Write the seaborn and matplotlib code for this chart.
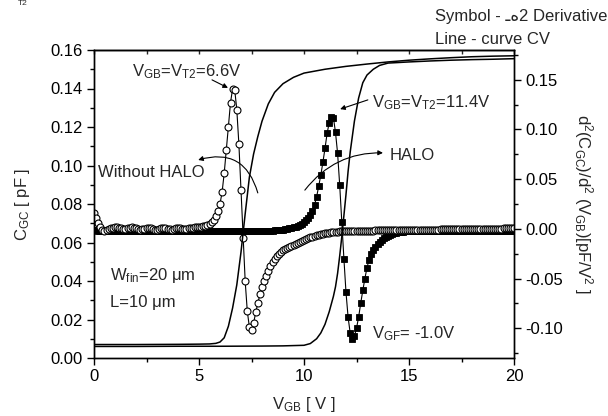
import numpy as np
import matplotlib
matplotlib.use("Agg")
import matplotlib.pyplot as plt
import seaborn as sns
from matplotlib.ticker import MultipleLocator, FormatStrFormatter

# Back-gate sweep of the second-derivative data (0.1 V step)
vgb_sweep = np.round(np.arange(201) * 0.1, 1)

# d2(C_GC)/d2(V_GB) without HALO implant [pF/V^2]
d2_no_halo = [
    0.016, 0.011, 0.006, 0.002, -0.001, -0.002, -0.001, 0.000, 0.001, 0.001,
    0.002, 0.002, 0.001, 0.001, 0.000, 0.000, 0.001, 0.001, 0.002, 0.001,
    0.001, 0.000, -0.001, 0.000, 0.000, 0.001, 0.001, 0.001, 0.000, -0.001,
    -0.001, 0.000, 0.001, 0.001, 0.001, 0.000, 0.000, -0.001, 0.000, 0.001,
    0.001, 0.001, 0.000, 0.000, 0.000, 0.001, 0.001, 0.001, 0.002, 0.002,
    0.002, 0.002, 0.003, 0.003, 0.004, 0.005, 0.007, 0.009, 0.013, 0.018,
    0.025, 0.037, 0.056, 0.079, 0.103, 0.127, 0.141, 0.140, 0.120, 0.085,
    0.039, -0.009, -0.053, -0.083, -0.099, -0.102, -0.095, -0.084, -0.075, -0.066,
    -0.059, -0.053, -0.047, -0.042, -0.037, -0.033, -0.030, -0.027, -0.025, -0.023,
    -0.021, -0.020, -0.019, -0.018, -0.017, -0.016, -0.015, -0.014, -0.013, -0.012,
    -0.011, -0.010, -0.009, -0.008, -0.008, -0.007, -0.006, -0.006, -0.005, -0.005,
    -0.004, -0.004, -0.004, -0.003, -0.003, -0.003, -0.003, -0.002, -0.002, -0.002,
    -0.002, -0.002, -0.002, -0.002, -0.002, -0.002, -0.002, -0.002, -0.002, -0.002,
    -0.002, -0.002, -0.002, -0.002, -0.001, -0.001, -0.001, -0.001, -0.001, -0.001,
    -0.001, -0.001, -0.001, -0.001, -0.001, -0.001, -0.001, -0.001, -0.001, -0.001,
    -0.001, -0.001, -0.001, -0.001, -0.001, -0.001, -0.001, -0.001, -0.001, -0.001,
    -0.001, -0.001, -0.001, -0.001, -0.001, 0.000, 0.000, 0.000, 0.000, 0.000,
    0.000, 0.000, 0.000, 0.000, 0.000, 0.000, 0.000, 0.000, 0.000, 0.000,
    0.000, 0.000, 0.000, 0.000, 0.000, 0.000, 0.000, 0.000, 0.000, 0.000,
    0.000, 0.000, 0.000, 0.000, 0.000, 0.001, 0.001, 0.001, 0.001, 0.001,
    0.001,
]

# d2(C_GC)/d2(V_GB) with HALO implant [pF/V^2]
d2_halo = [
    -0.001, -0.001, -0.002, -0.002, -0.002, -0.002, -0.002, -0.002, -0.002, -0.002,
    -0.002, -0.002, -0.002, -0.002, -0.002, -0.002, -0.002, -0.002, -0.002, -0.002,
    -0.002, -0.002, -0.002, -0.002, -0.002, -0.002, -0.002, -0.002, -0.002, -0.002,
    -0.002, -0.002, -0.002, -0.002, -0.002, -0.002, -0.002, -0.002, -0.002, -0.002,
    -0.002, -0.002, -0.002, -0.002, -0.002, -0.002, -0.002, -0.002, -0.002, -0.002,
    -0.002, -0.002, -0.002, -0.002, -0.002, -0.002, -0.002, -0.002, -0.002, -0.002,
    -0.002, -0.002, -0.002, -0.002, -0.002, -0.002, -0.002, -0.002, -0.002, -0.002,
    -0.002, -0.002, -0.002, -0.002, -0.002, -0.002, -0.002, -0.002, -0.002, -0.002,
    -0.002, -0.002, -0.002, -0.002, -0.002, -0.002, -0.001, -0.001, -0.001, -0.001,
    -0.001, 0.000, 0.000, 0.001, 0.001, 0.002, 0.002, 0.003, 0.004, 0.005,
    0.007, 0.009, 0.011, 0.014, 0.018, 0.024, 0.032, 0.043, 0.054, 0.067,
    0.081, 0.096, 0.107, 0.113, 0.112, 0.097, 0.076, 0.044, 0.007, -0.030,
    -0.064, -0.089, -0.105, -0.111, -0.108, -0.100, -0.089, -0.075, -0.062, -0.050,
    -0.039, -0.031, -0.025, -0.021, -0.018, -0.015, -0.013, -0.011, -0.009, -0.008,
    -0.007, -0.006, -0.005, -0.004, -0.004, -0.003, -0.003, -0.003, -0.002, -0.002,
    -0.002, -0.002, -0.002, -0.002, -0.002, -0.002, -0.002, -0.002, -0.002, -0.002,
    -0.002, -0.002, -0.002, -0.002, -0.002, -0.002, -0.002, -0.002, -0.002, -0.002,
    -0.002, -0.002, -0.002, -0.002, -0.002, -0.002, -0.002, -0.002, -0.002, -0.002,
    -0.002, -0.002, -0.002, -0.002, -0.002, -0.002, -0.002, -0.002, -0.002, -0.002,
    -0.002, -0.002, -0.002, -0.002, -0.002, -0.002, -0.002, -0.002, -0.002, -0.002,
    -0.002,
]

# C_GC-V_GB curves [pF]
cv_no_halo_v = [0, 2, 4, 5, 5.5, 5.8, 6.0, 6.2, 6.4, 6.6, 6.8, 7.0, 7.2, 7.4,
                7.6, 7.8, 8.0, 8.3, 8.6, 9.0, 9.5, 10, 11, 12, 13, 14, 15, 16,
                17, 18, 19, 20]
cv_no_halo_c = [0.0070, 0.0070, 0.0071, 0.0072, 0.0073, 0.0076, 0.0083, 0.0105,
                0.0165, 0.026, 0.038, 0.055, 0.075, 0.094, 0.106, 0.115, 0.123,
                0.132, 0.138, 0.1425, 0.1458, 0.148, 0.150, 0.1515, 0.1527,
                0.1538, 0.1547, 0.1554, 0.156, 0.1565, 0.1568, 0.157]

cv_halo_v = [0, 2, 4, 6, 8, 9, 10, 10.3, 10.6, 10.8, 11.0, 11.2, 11.4, 11.5,
             11.6, 11.7, 11.8, 11.9, 12.0, 12.1, 12.2, 12.4, 12.6, 12.8, 13.0,
             13.3, 13.6, 14, 15, 16, 17, 18, 19, 20]
cv_halo_c = [0.0060, 0.0060, 0.0061, 0.0061, 0.0062, 0.0063, 0.0066, 0.0075,
             0.0100, 0.0130, 0.0175, 0.024, 0.032, 0.037, 0.044, 0.053, 0.063,
             0.074, 0.085, 0.097, 0.107, 0.123, 0.135, 0.143, 0.147, 0.150,
             0.152, 0.1532, 0.1538, 0.1543, 0.1547, 0.1550, 0.1552, 0.1555]

x_ticks = [0, 5, 10, 15, 20]
left_ticks = [0.00, 0.02, 0.04, 0.06, 0.08, 0.10, 0.12, 0.14, 0.16]
right_ticks = [-0.10, -0.05, 0.00, 0.05, 0.10, 0.15]

sns.set_style("ticks")
plt.rcParams["font.family"] = ["Liberation Sans", "DejaVu Sans"]
plt.rcParams["mathtext.fontset"] = "custom"
plt.rcParams["mathtext.rm"] = "Liberation Sans"
plt.rcParams["mathtext.it"] = "Liberation Sans:italic"
plt.rcParams["mathtext.default"] = "regular"
plt.rcParams["axes.linewidth"] = 1.0

FS = 12
fig = plt.figure(figsize=(6.08, 4.16), dpi=100)
ax = fig.add_axes([94 / 608, 1 - 358 / 416, 420 / 608, 308 / 416])
ax2 = ax.twinx()

# second-derivative data on the right axis
sns.lineplot(x=vgb_sweep, y=d2_halo, ax=ax2, color="black", lw=0.8,
             marker="s", markersize=4.5, markerfacecolor="black",
             markeredgecolor="black", markeredgewidth=0.6,
             estimator=None, sort=False, legend=False)
sns.lineplot(x=vgb_sweep, y=d2_no_halo, ax=ax2, color="black", lw=0.8,
             marker="o", markersize=5, markerfacecolor="white",
             markeredgecolor="black", markeredgewidth=0.8,
             estimator=None, sort=False, legend=False)

# C-V curves on the left axis
sns.lineplot(x=cv_no_halo_v, y=cv_no_halo_c, ax=ax, color="black", lw=1.1,
             estimator=None, sort=False, legend=False)
sns.lineplot(x=cv_halo_v, y=cv_halo_c, ax=ax, color="black", lw=1.1,
             estimator=None, sort=False, legend=False)
ax.set_zorder(ax2.get_zorder() + 1)
ax.patch.set_visible(False)

ax.set_xlim(0, 20)
ax.set_ylim(0, 0.16)
ax2.set_ylim(-0.13, 0.18)
ax.set_xticks(x_ticks)
ax.set_yticks(left_ticks)
ax2.set_yticks(right_ticks)
ax.xaxis.set_minor_locator(MultipleLocator(2.5))
ax.yaxis.set_minor_locator(MultipleLocator(0.01))
ax2.yaxis.set_minor_locator(MultipleLocator(0.025))
ax.yaxis.set_major_formatter(FormatStrFormatter("%.2f"))
ax2.yaxis.set_major_formatter(FormatStrFormatter("%.2f"))

for a in (ax, ax2):
    for s in a.spines.values():
        s.set_visible(True)
        s.set_linewidth(1.0)
        s.set_color("black")
ax.tick_params(axis="both", which="major", direction="out", length=5,
               width=1.0, labelsize=FS, pad=3, colors="black")
ax.tick_params(axis="both", which="minor", direction="out", length=3,
               width=1.0, colors="black")
ax2.tick_params(axis="y", which="major", direction="out", length=5,
                width=1.0, labelsize=FS, pad=3, colors="black")
ax2.tick_params(axis="y", which="minor", direction="out", length=3,
                width=1.0, colors="black")

top = ax.secondary_xaxis("top")
top.set_xticks(x_ticks)
top.xaxis.set_minor_locator(MultipleLocator(2.5))
top.tick_params(which="both", direction="in", length=3, width=1.0,
                labeltop=False)

ax.set_xlabel(r"V$_{GB}$ [ V ]", fontsize=FS)
ax.xaxis.set_label_coords(0.5, -0.165)
ax.xaxis.label.set_va("baseline")
ax.set_ylabel(r"C$_{GC}$ [ pF ]", fontsize=FS)
ax.yaxis.set_label_coords(-0.17, 0.5)
ax.yaxis.label.set_va("center")
ax2.set_ylabel(r"d$^2$(C$_{GC}$)/d$^2$ (V$_{GB}$)[pF/V$^2$ ]", fontsize=FS,
               rotation=270)
ax2.yaxis.set_label_coords(1.165, 0.5)
ax2.yaxis.label.set_va("center")
ax2.yaxis.label.set_ha("center")

tA = ax.transAxes
ax.text(0.0905, 0.9156, r"V$_{GB}$=V$_{T2}$=6.6V", fontsize=FS,
        va="baseline", transform=tA)
ax.annotate("", xy=(0.319, 0.877), xytext=(0.281, 0.903), xycoords=tA,
            textcoords=tA,
            arrowprops=dict(arrowstyle="-|>", color="black", lw=0.8,
                            mutation_scale=7, shrinkA=0, shrinkB=0))
ax.text(0.0095, 0.588, "Without HALO", fontsize=FS, va="baseline",
        transform=tA)
ax.annotate("", xy=(0.248, 0.643), xytext=(0.390, 0.536), xycoords=tA,
            textcoords=tA,
            arrowprops=dict(arrowstyle="-|>", color="black", lw=0.8,
                            mutation_scale=7, shrinkA=0, shrinkB=0,
                            connectionstyle="arc3,rad=0.5"))
ax.text(0.662, 0.815, r"V$_{GB}$=V$_{T2}$=11.4V", fontsize=FS,
        va="baseline", transform=tA)
ax.annotate("", xy=(0.586, 0.808), xytext=(0.652, 0.838), xycoords=tA,
            textcoords=tA,
            arrowprops=dict(arrowstyle="-|>", color="black", lw=0.8,
                            mutation_scale=7, shrinkA=0, shrinkB=0))
ax.text(0.705, 0.643, "HALO", fontsize=FS, va="baseline", transform=tA)
ax.annotate("", xy=(0.688, 0.666), xytext=(0.502, 0.545), xycoords=tA,
            textcoords=tA,
            arrowprops=dict(arrowstyle="-|>", color="black", lw=0.8,
                            mutation_scale=7, shrinkA=0, shrinkB=0,
                            connectionstyle="arc3,rad=-0.25"))
ax.text(0.038, 0.253, r"W$_{fin}$=20 μm", fontsize=FS, va="baseline",
        transform=tA)
ax.text(0.038, 0.166, "L=10 μm", fontsize=FS, va="baseline", transform=tA)
ax.text(0.662, 0.065, r"V$_{GF}$= -1.0V", fontsize=FS, va="baseline",
        transform=tA)

fig.text(435 / 608, 1 - 21 / 416, "Symbol - \u0640\u06472 Derivative",
         fontsize=FS, va="baseline", ha="left")
fig.text(435 / 608, 1 - 44 / 416, "Line - curve CV", fontsize=FS,
         va="baseline", ha="left")
fig.text(18 / 608, 0.999, "T2", fontsize=6, va="top", ha="left")

fig.savefig("out.png", dpi=100)
